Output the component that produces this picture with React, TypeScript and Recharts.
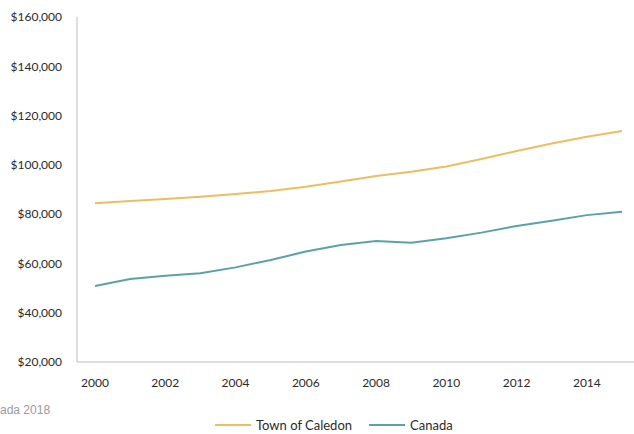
import React from "react";
import { LineChart, Line, XAxis, YAxis, Legend } from "recharts";

const years = [2000, 2001, 2002, 2003, 2004, 2005, 2006, 2007, 2008, 2009, 2010, 2011, 2012, 2013, 2014, 2015];
const caledon = [84400, 85300, 86100, 87100, 88200, 89400, 91100, 93200, 95500, 97200, 99300, 102400, 105600, 108700, 111400, 113700];
const canada = [50800, 53700, 55000, 56000, 58400, 61400, 64800, 67500, 69100, 68400, 70200, 72500, 75200, 77300, 79600, 81000];
const seriesNames = ["Town of Caledon", "Canada"];
const xTicks = [2000, 2002, 2004, 2006, 2008, 2010, 2012, 2014];
const yTicks = [20000, 40000, 60000, 80000, 100000, 120000, 140000, 160000];
const sourceNote = "ada 2018";

const data = years.map((y, i) => ({ year: y, caledon: caledon[i], canada: canada[i] }));

const FONT = "Lato, 'Open Sans', sans-serif";
const fmt = (v: number) => "$" + v.toLocaleString("en-US");

const LegendContent = (props: any) => {
  const payload = [...(props.payload || [])].sort(
    (a: any, b: any) => seriesNames.indexOf(a.value) - seriesNames.indexOf(b.value)
  );
  return (
    <div style={{ height: 32, position: "relative", fontFamily: FONT, fontSize: 13, color: "#2a2a2a" }}>
      <div style={{ position: "absolute", left: 215, top: 15, display: "flex", alignItems: "center" }}>
        {payload.map((p: any, i: number) => (
          <div key={i} style={{ display: "flex", alignItems: "center", marginRight: i === 0 ? 17 : 0 }}>
            <div style={{ width: 36, height: 2, background: p.color, marginRight: 5 }} />
            <span>{p.value}</span>
          </div>
        ))}
      </div>
    </div>
  );
};

export default function App() {
  return (
    <div style={{ position: "absolute", left: 0, top: 0, width: 634, height: 434, background: "#fff" }}>
      <LineChart width={634} height={434} data={data} margin={{ top: 17, right: 0, left: 0, bottom: 0 }}>
        <XAxis
          dataKey="year"
          type="number"
          domain={[2000, 2015]}
          ticks={xTicks}
          padding={{ left: 18, right: 12 }}
          height={40}
          tickSize={0}
          tickMargin={16}
          axisLine={{ stroke: "#d2d2d2", strokeWidth: 1.5 }}
          tickLine={false}
          tick={{ fill: "#2a2a2a", fontSize: 12, fontFamily: FONT }}
        />
        <YAxis
          width={77}
          domain={[20000, 160000]}
          ticks={yTicks}
          tickFormatter={fmt}
          tickSize={0}
          tickMargin={15}
          axisLine={{ stroke: "#d2d2d2", strokeWidth: 1.5 }}
          tickLine={false}
          tick={{ fill: "#2a2a2a", fontSize: 12, fontFamily: FONT }}
        />
        <Legend verticalAlign="bottom" content={<LegendContent />} wrapperStyle={{ height: 32 }} />
        <Line type="linear" dataKey="caledon" name={seriesNames[0]} stroke="#EBBE62" strokeWidth={2} dot={false} isAnimationActive={false} />
        <Line type="linear" dataKey="canada" name={seriesNames[1]} stroke="#5AA2A8" strokeWidth={2} dot={false} isAnimationActive={false} />
      </LineChart>
      <div style={{ position: "absolute", left: 0, top: 403, fontFamily: "'Liberation Sans', Arial, sans-serif", fontSize: 12, color: "#9a9a9a" }}>
        {sourceNote}
      </div>
    </div>
  );
}
